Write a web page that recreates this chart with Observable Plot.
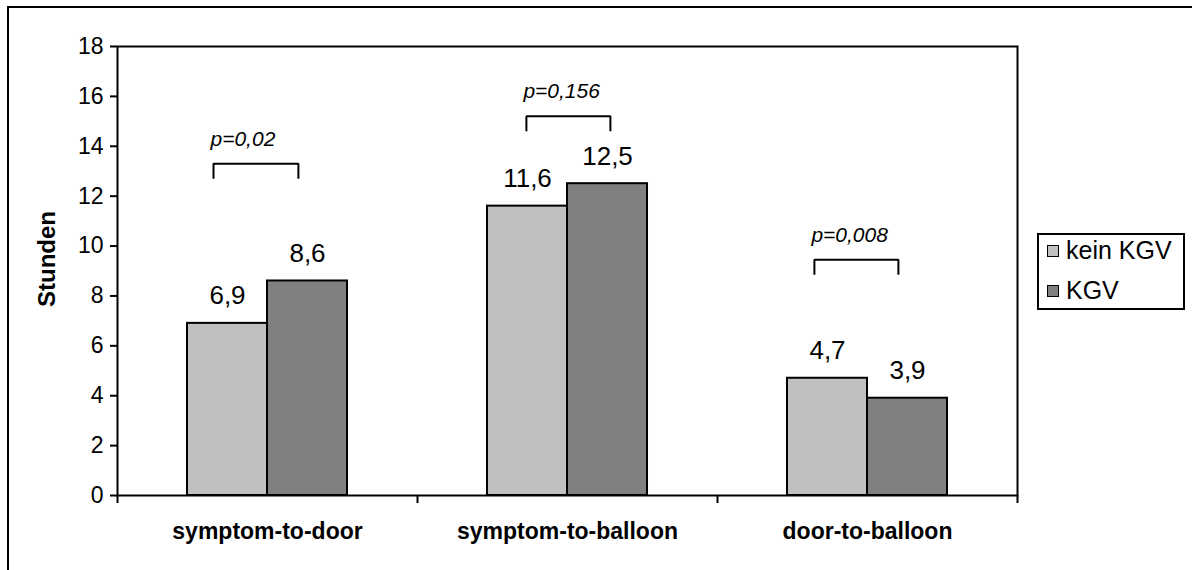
<!DOCTYPE html>
<html><head><meta charset="utf-8">
<script src="https://cdn.jsdelivr.net/npm/d3@7"></script>
<script src="https://cdn.jsdelivr.net/npm/@observablehq/plot@0.6"></script>
<style>
html,body{margin:0;padding:0;background:#fff;overflow:hidden}
#wrap{position:relative;width:1192px;height:570px;overflow:hidden;font-family:"Liberation Sans",Arial,sans-serif;background:#fff}
#outer{position:absolute;left:7px;top:6px;width:1300px;height:700px;border-left:2px solid #000;border-top:2px solid #000}
#chart{position:absolute;left:0;top:0}
#legend{position:absolute;left:1037px;top:233px;width:148px;height:77px;box-sizing:border-box;border:2px solid #000;background:#fff}
.row{position:absolute;left:0;height:25px;font-size:25px;line-height:25px;white-space:nowrap;color:#000}
.sw{position:absolute;left:8px;width:12px;height:12px;box-sizing:border-box;border:1px solid #000}
.lt{position:absolute;left:27px;top:0}
</style></head><body>
<div id="wrap"><div id="outer"></div><div id="chart"></div><div id="legend"></div></div>
<script>
// ---- data ----
const categories = ["symptom-to-door", "symptom-to-balloon", "door-to-balloon"];
const series = ["kein KGV", "KGV"];
const keinKGV = [6.9, 11.6, 4.7];
const kgv = [8.6, 12.5, 3.9];
const yTicks = [0, 2, 4, 6, 8, 10, 12, 14, 16, 18];
const pLabels = ["p=0,02", "p=0,156", "p=0,008"];
const pBracketLevel = [13.3, 15.2, 9.45];

// ---- styling / layout constants ----
const seriesColors = ["#c0c0c0", "#808080"];
const barWidth = 0.2667;             // fraction of a category slot
const bracketSpan = [[-0.18, 0.103], [-0.137, 0.143], [-0.177, 0.103]];
const bracketLeg = 0.6;              // hours
const font = "Liberation Sans, Arial, sans-serif";

const values = [keinKGV, kgv];
const bars = [];
series.forEach((s, si) => categories.forEach((c, ci) => {
  const center = ci + 0.5;
  bars.push({
    series: s, category: c, value: values[si][ci],
    x1: si === 0 ? center - barWidth : center,
    x2: si === 0 ? center : center + barWidth
  });
}));

const brackets = [];
pBracketLevel.forEach((lvl, i) => {
  const c = i + 0.5, L = c + bracketSpan[i][0], R = c + bracketSpan[i][1];
  brackets.push({g: i, x: L, y: lvl - bracketLeg});
  brackets.push({g: i, x: L, y: lvl});
  brackets.push({g: i, x: R, y: lvl});
  brackets.push({g: i, x: R, y: lvl - bracketLeg});
});
const pText = pLabels.map((t, i) => ({text: t, x: i + 0.5 + bracketSpan[i][0], y: pBracketLevel[i]}));

const fmt = v => v.toFixed(1).replace(".", ",");

const chart = Plot.plot({
  width: 1192, height: 570,
  marginLeft: 117, marginRight: 175, marginTop: 46, marginBottom: 75,
  style: {fontFamily: font, fontSize: "22px", color: "#000", background: "transparent", overflow: "visible"},
  x: {domain: [0, 3]},
  y: {domain: [0, 18]},
  color: {domain: series, range: seriesColors},
  marks: [
    Plot.rectY(bars, {x1: "x1", x2: "x2", y: "value", fill: "series", stroke: "#000", strokeWidth: 2}),
    Plot.frame({stroke: "#000", strokeWidth: 2}),
    Plot.axisY({ticks: yTicks, tickSize: 7, strokeWidth: 2, tickFormat: () => "", label: null}),
    Plot.text(yTicks, {y: d => d, frameAnchor: "left", textAnchor: "end", dx: -14, text: d => String(d), fontSize: "23px"}),
    Plot.axisX({ticks: [0, 1, 2, 3], tickSize: 8, strokeWidth: 2, tickFormat: () => "", label: null}),
    Plot.text(categories, {x: (d, i) => i + 0.5, frameAnchor: "bottom", lineAnchor: "bottom", dy: 43,
      text: d => d, fontWeight: "bold", fontSize: "23px"}),
    Plot.text(["Stunden"], {frameAnchor: "left", textAnchor: "middle", rotate: -90, dx: -70, dy: -12, text: d => d, fontWeight: "bold", fontSize: "24px"}),
    Plot.text(bars, {x: d => (d.x1 + d.x2) / 2, y: "value", text: d => fmt(d.value), lineAnchor: "bottom", dy: -19, fontSize: "26px"}),
    Plot.line(brackets, {x: "x", y: "y", z: "g", stroke: "#000", strokeWidth: 2, strokeLinejoin: "miter", strokeLinecap: "butt"}),
    Plot.text(pText, {x: "x", y: "y", text: "text", textAnchor: "start", lineAnchor: "bottom", dx: -3, dy: -18, fontStyle: "italic", fontSize: "21px"})
  ]
});
document.getElementById("chart").appendChild(chart);

// legend
const legend = document.getElementById("legend");
series.forEach((s, i) => {
  const row = document.createElement("div");
  row.className = "row";
  row.style.top = (3 + i * 40) + "px";
  const sw = document.createElement("div");
  sw.className = "sw";
  sw.style.top = "7px";
  sw.style.background = seriesColors[i];
  const t = document.createElement("span");
  t.className = "lt";
  t.textContent = s;
  row.appendChild(sw); row.appendChild(t);
  legend.appendChild(row);
});
</script>
</body></html>
